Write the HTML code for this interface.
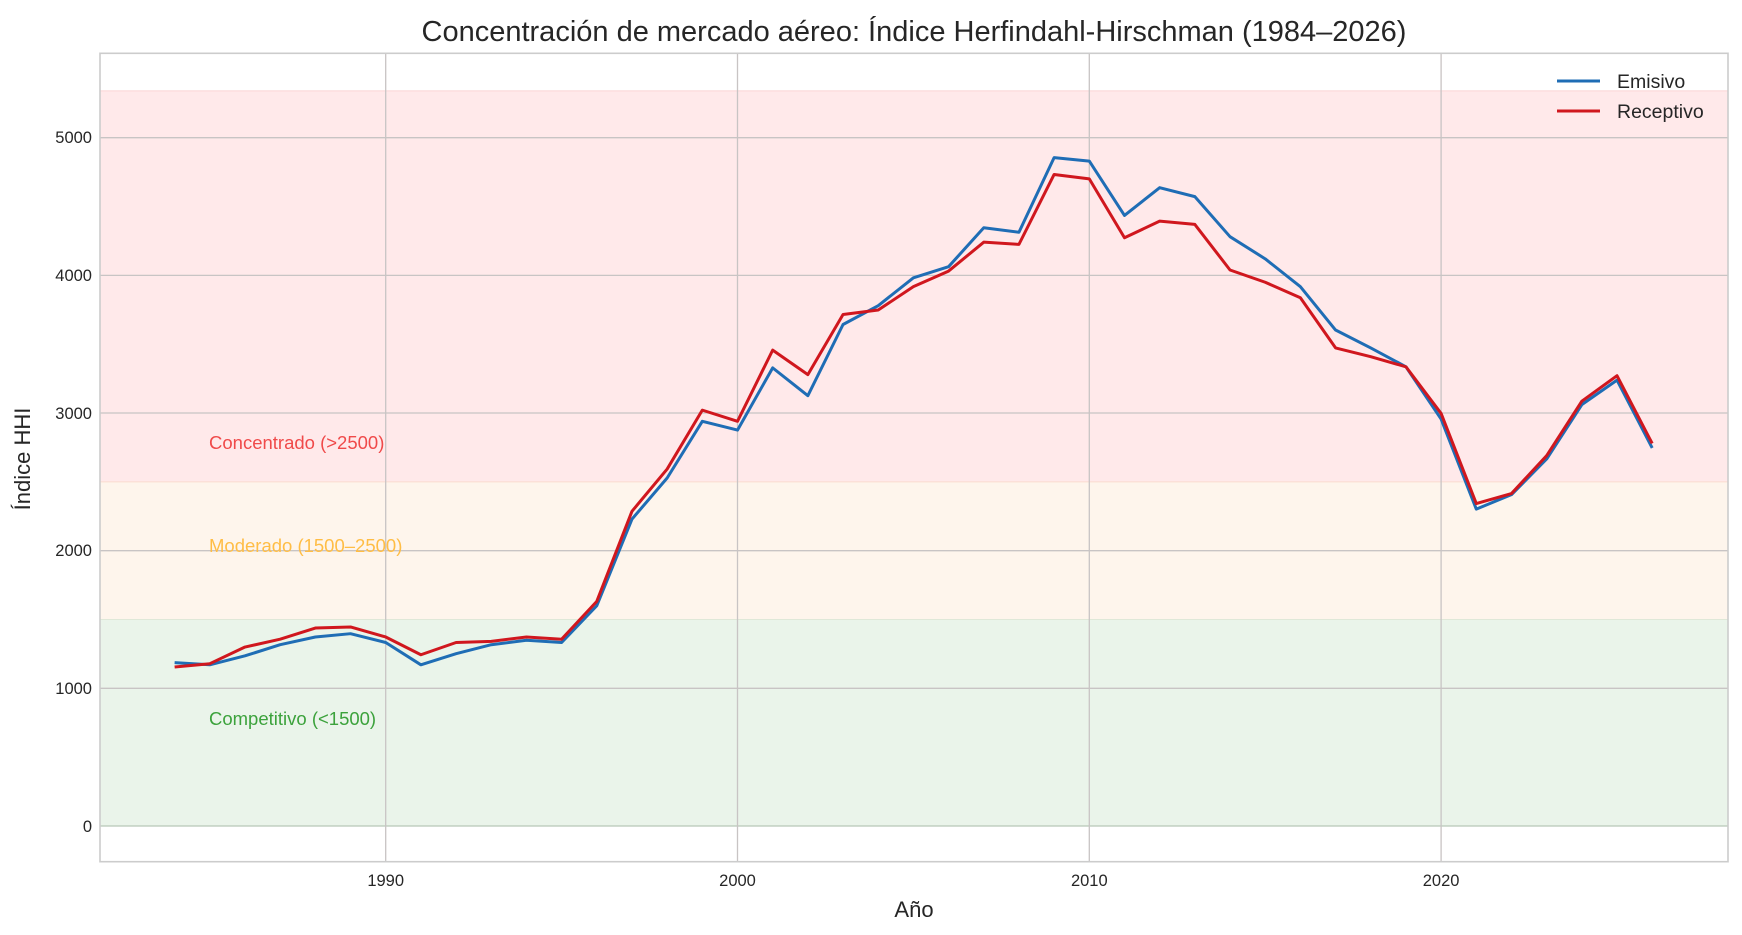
<!DOCTYPE html>
<html><head><meta charset="utf-8"><style>
html,body{margin:0;padding:0;background:#fff;}
svg{display:block;font-family:"Liberation Sans",Arial,sans-serif;}
</style></head><body>
<svg width="1742" height="935" viewBox="0 0 1742 935" xmlns="http://www.w3.org/2000/svg">
<rect width="1742" height="935" fill="#fff"/>
<rect x="100" y="90.9" width="1628" height="391" fill="#ffe9ea"/>
<line x1="100" x2="1728" y1="90.9" y2="90.9" stroke="#fbd3d3" stroke-width="1"/>
<rect x="100" y="481.9" width="1628" height="137.6" fill="#fef5ec"/>
<line x1="100" x2="1728" y1="481.9" y2="481.9" stroke="#fbdccf" stroke-width="1"/>
<rect x="100" y="619.5" width="1628" height="206.5" fill="#eaf4ea"/>
<line x1="100" x2="1728" y1="619.5" y2="619.5" stroke="#dfe8d8" stroke-width="1"/>
<g stroke="#c8c4c4" stroke-width="1.3">
<line x1="100" x2="1728" y1="826" y2="826" stroke="#b8c8b8"/>
<line x1="100" x2="1728" y1="688.3" y2="688.3"/>
<line x1="100" x2="1728" y1="550.7" y2="550.7"/>
<line x1="100" x2="1728" y1="413" y2="413"/>
<line x1="100" x2="1728" y1="275.4" y2="275.4"/>
<line x1="100" x2="1728" y1="137.7" y2="137.7"/>
<line x1="385.7" x2="385.7" y1="53" y2="862"/>
<line x1="737.5" x2="737.5" y1="53" y2="862"/>
<line x1="1089.3" x2="1089.3" y1="53" y2="862"/>
<line x1="1441.1" x2="1441.1" y1="53" y2="862"/>
</g>
<rect x="100" y="53.3" width="1628" height="808.4" fill="none" stroke="#cccccc" stroke-width="1.6"/>
<g font-size="16.5" fill="#262626" text-anchor="end">
<text x="92" y="832">0</text>
<text x="92" y="694">1000</text>
<text x="92" y="556">2000</text>
<text x="92" y="419">3000</text>
<text x="92" y="281">4000</text>
<text x="92" y="143">5000</text>
</g>
<g font-size="16.5" fill="#262626" text-anchor="middle">
<text x="385.7" y="886">1990</text>
<text x="737.5" y="886">2000</text>
<text x="1089.3" y="886">2010</text>
<text x="1441.1" y="886">2020</text>
</g>
<text x="914" y="917" font-size="22" fill="#262626" text-anchor="middle">Año</text>
<text transform="translate(30,459) rotate(-90)" font-size="22" fill="#262626" text-anchor="middle">Índice HHI</text>
<text x="914" y="41" font-size="29" fill="#262626" text-anchor="middle">Concentración de mercado aéreo: Índice Herfindahl-Hirschman (1984–2026)</text>
<g font-size="18.5">
<text x="209" y="449" fill="#f04a4a">Concentrado (&gt;2500)</text>
<text x="209" y="552" fill="#ffbd45">Moderado (1500–2500)</text>
<text x="209" y="725" fill="#3ca23c">Competitivo (&lt;1500)</text>
</g>
<g transform="matrix(35.18 0 0 -0.13766 -69622.5 826)" fill="none" stroke-width="3" stroke-linejoin="round">
<polyline vector-effect="non-scaling-stroke" stroke="#1f6db5" points="1984,1187 1985,1171 1986,1236 1987,1317 1988,1373 1989,1397 1990,1333 1991,1171 1992,1252 1993,1317 1994,1349 1995,1333 1996,1600 1997,2229 1998,2528 1999,2940 2000,2876 2001,3328 2002,3126 2003,3643 2004,3780 2005,3982 2006,4063 2007,4346 2008,4313 2009,4855 2010,4830 2011,4435 2012,4637 2013,4572 2014,4281 2015,4120 2016,3918 2017,3603 2018,3473 2019,3336 2020,2956 2021,2302 2022,2407 2023,2666 2024,3061 2025,3239 2026,2746"/>
<polyline vector-effect="non-scaling-stroke" stroke="#d0171e" points="1984,1155 1985,1179 1986,1300 1987,1357 1988,1438 1989,1446 1990,1373 1991,1244 1992,1333 1993,1341 1994,1373 1995,1357 1996,1632 1997,2286 1998,2593 1999,3021 2000,2940 2001,3457 2002,3279 2003,3716 2004,3748 2005,3918 2006,4031 2007,4241 2008,4225 2009,4733 2010,4701 2011,4273 2012,4394 2013,4370 2014,4039 2015,3950 2016,3837 2017,3473 2018,3409 2019,3336 2020,2997 2021,2342 2022,2415 2023,2690 2024,3086 2025,3271 2026,2779"/>
</g>
<line x1="1557" x2="1600" y1="81" y2="81" stroke="#1f6db5" stroke-width="3"/>
<line x1="1557" x2="1600" y1="111" y2="111" stroke="#d0171e" stroke-width="3"/>
<g font-size="19.5" fill="#262626">
<text x="1617" y="88">Emisivo</text>
<text x="1617" y="118">Receptivo</text>
</g>
</svg>
</body></html>
